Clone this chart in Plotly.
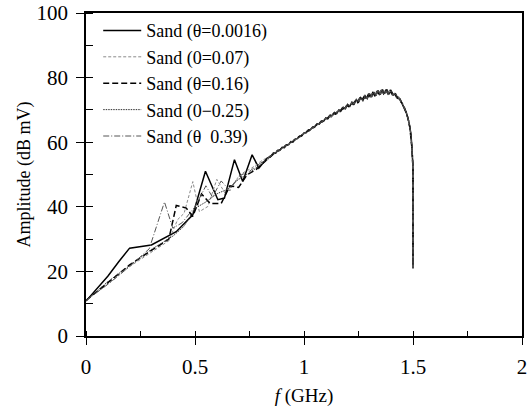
import plotly.graph_objects as go

# ---------------- data ----------------
labels = ["Sand (θ=0.0016)", "Sand (0=0.07)", "Sand (θ=0.16)", "Sand (0−0.25)", "Sand (θ  0.39)"]

# low-frequency parts of each series (GHz, dB mV)
x_s1 = [0.0, 0.05, 0.10, 0.15, 0.20, 0.30, 0.35, 0.414, 0.49, 0.548, 0.605, 0.635, 0.681, 0.719, 0.762, 0.793, 0.83, 0.85]
y_s1 = [10.8, 14.5, 18.5, 23.0, 27.2, 28.2, 30.0, 32.3, 37.5, 51.0, 42.2, 42.7, 54.6, 47.8, 56.1, 52.0, 55.0, 55.8]

x_s2 = [0.0, 0.10, 0.20, 0.30, 0.38, 0.42, 0.45, 0.49, 0.52, 0.559, 0.60, 0.64, 0.68, 0.72, 0.76, 0.80, 0.85]
y_s2 = [11.0, 16.0, 21.5, 26.0, 29.5, 36.0, 38.0, 47.8, 38.5, 40.1, 48.5, 44.0, 47.5, 50.5, 52.0, 54.0, 56.0]

x_s3 = [0.0, 0.10, 0.20, 0.30, 0.38, 0.414, 0.46, 0.49, 0.53, 0.57, 0.62, 0.66, 0.70, 0.74, 0.78, 0.82, 0.855]
y_s3 = [11.0, 16.5, 22.0, 26.5, 30.0, 40.4, 39.6, 37.0, 44.0, 41.0, 41.0, 46.5, 46.0, 50.0, 51.5, 54.0, 56.0]

x_s4 = [0.0, 0.10, 0.20, 0.30, 0.40, 0.45, 0.50, 0.55, 0.60, 0.65, 0.70, 0.75, 0.80, 0.85]
y_s4 = [11.0, 16.8, 21.8, 26.8, 31.0, 34.0, 39.5, 41.5, 44.0, 45.5, 48.5, 50.5, 53.0, 55.5]

x_s5 = [0.0, 0.10, 0.20, 0.29, 0.36, 0.398, 0.44, 0.50, 0.55, 0.58, 0.62, 0.66, 0.70, 0.75, 0.80, 0.855]
y_s5 = [11.0, 16.0, 21.5, 27.0, 41.5, 33.4, 35.0, 40.0, 46.5, 43.0, 48.0, 45.0, 49.5, 51.0, 53.5, 56.0]

# noisy high-frequency part where all series overlap (two sampled copies)
x_hf_a = [0.86, 0.87, 0.88, 0.89, 0.90, 0.91, 0.92, 0.93, 0.94, 0.95, 0.96, 0.97, 0.98, 0.99,
          1.00, 1.01, 1.02, 1.03, 1.04, 1.05, 1.06, 1.07, 1.08, 1.09, 1.10, 1.11, 1.12, 1.13,
          1.14, 1.15, 1.16, 1.17, 1.18, 1.19, 1.20, 1.21, 1.22, 1.23, 1.24, 1.25, 1.26, 1.27,
          1.28, 1.29, 1.30, 1.31, 1.32, 1.33, 1.34, 1.35, 1.36, 1.37, 1.38, 1.39, 1.40, 1.41,
          1.42, 1.43, 1.44, 1.45, 1.46, 1.47, 1.48, 1.49, 1.495, 1.50, 1.50, 1.50]
y_hf_a = [56.7, 56.6, 57.5, 57.6, 58.4, 58.3, 59.2, 59.3, 60.2, 60.1, 61.0, 61.1, 61.9, 62.0,
          62.9, 63.0, 63.8, 63.9, 64.7, 64.8, 65.7, 65.6, 66.6, 66.5, 67.5, 67.3, 68.4, 68.2,
          69.2, 68.9, 70.0, 69.7, 70.8, 70.4, 71.7, 71.1, 72.4, 71.8, 73.2, 72.4, 73.8, 72.9,
          74.4, 73.5, 75.0, 74.0, 75.5, 74.5, 76.0, 74.8, 76.3, 75.1, 76.3, 75.0, 75.9, 74.6,
          75.0, 73.6, 73.4, 72.0, 70.9, 69.0, 66.6, 62.8, 58.5, 52.0, 35.0, 21.0]

x_hf_b = [0.865, 0.875, 0.885, 0.895, 0.905, 0.915, 0.925, 0.935, 0.945, 0.955, 0.965, 0.975, 0.985, 0.995,
          1.005, 1.015, 1.025, 1.035, 1.045, 1.055, 1.065, 1.075, 1.085, 1.095, 1.105, 1.115, 1.125, 1.135,
          1.145, 1.155, 1.165, 1.175, 1.185, 1.195, 1.205, 1.215, 1.225, 1.235, 1.245, 1.255, 1.265, 1.275,
          1.285, 1.295, 1.305, 1.315, 1.325, 1.335, 1.345, 1.355, 1.365, 1.375, 1.385, 1.395, 1.405, 1.415,
          1.425, 1.435, 1.445, 1.455, 1.465, 1.475, 1.485, 1.495, 1.50, 1.50, 1.50]
y_hf_b = [56.5, 57.2, 57.3, 58.0, 58.2, 59.0, 59.1, 59.8, 60.0, 60.7, 60.9, 61.6, 61.8, 62.5,
          62.7, 63.4, 63.6, 64.4, 64.5, 65.3, 65.4, 66.2, 66.3, 67.1, 67.2, 68.0, 67.9, 68.9,
          68.7, 69.7, 69.5, 70.5, 70.2, 71.3, 71.0, 72.1, 71.7, 72.9, 72.3, 73.6, 72.9, 74.1,
          73.4, 74.8, 73.9, 75.3, 74.4, 75.8, 74.8, 76.1, 75.0, 76.2, 75.0, 76.0, 74.7, 75.2,
          73.8, 74.1, 72.4, 71.7, 69.9, 67.9, 64.9, 58.3, 52.0, 35.0, 21.0]

x_ticks = [0, 0.5, 1, 1.5, 2]
x_tick_text = ["0", "0.5", "1", "1.5", "2"]
y_ticks = [0, 20, 40, 60, 80, 100]

# ---------------- figure ----------------
serif = "Liberation Serif"

series = [
    (x_s1 + x_hf_a, y_s1 + y_hf_a, dict(color="black", width=1.5, dash="solid")),
    (x_s2 + x_hf_a, y_s2 + y_hf_a, dict(color="#8a8a8a", width=1.0, dash="3px,2px")),
    (x_s3 + x_hf_b, y_s3 + y_hf_b, dict(color="black", width=1.5, dash="6px,3px")),
    (x_s4 + x_hf_a, y_s4 + y_hf_a, dict(color="#333333", width=1.0, dash="1.5px,1px")),
    (x_s5 + x_hf_b, y_s5 + y_hf_b, dict(color="#555555", width=1.0, dash="6px,2px,1px,2px")),
]

fig = go.Figure()
for i, (xs, ys, ln) in enumerate(series):
    fig.add_trace(go.Scatter(
        x=xs, y=ys, mode="lines", name=labels[i],
        line=ln, legendgroup=f"g{i}",
    ))

fig.update_layout(
    width=528, height=407,
    margin=dict(l=86, r=6, t=13, b=71, autoexpand=False),
    paper_bgcolor="white", plot_bgcolor="white",
    font=dict(family=serif, color="black", size=18),
    showlegend=True,
    legend=dict(x=0.028, y=0.970, xanchor="left", yanchor="top", yref="container",
                bgcolor="rgba(0,0,0,0)", font=dict(family=serif, size=18),
                tracegroupgap=3.5, traceorder="normal", itemwidth=38),
    xaxis=dict(range=[0, 2], tickvals=x_ticks, ticktext=x_tick_text,
               showgrid=False, zeroline=False, showline=True, linecolor="black",
               linewidth=1.5, mirror=True, ticks="outside", ticklen=7,
               tickcolor="black", tickfont=dict(size=21, family=serif),
               ticklabelstandoff=4, ticklabeloverflow="allow",
               minor=dict(dtick=0.25, ticks="inside", ticklen=5, tickcolor="black", showgrid=False),
               title=dict(text="<i>f</i> (GHz)", font=dict(size=19, family=serif), standoff=15)),
    yaxis=dict(range=[0, 100], tickvals=y_ticks,
               showgrid=False, zeroline=False, showline=True, linecolor="black",
               linewidth=1.5, mirror=True, ticks="outside", ticklen=8,
               tickcolor="black", tickfont=dict(size=21, family=serif),
               ticklabelstandoff=4, ticklabeloverflow="allow",
               minor=dict(dtick=10, ticks="inside", ticklen=7, tickcolor="black", showgrid=False),
               title=dict(text="Amplitude (dB mV)", font=dict(size=18, family=serif), standoff=1)),
)

fig.write_html("out.html")
